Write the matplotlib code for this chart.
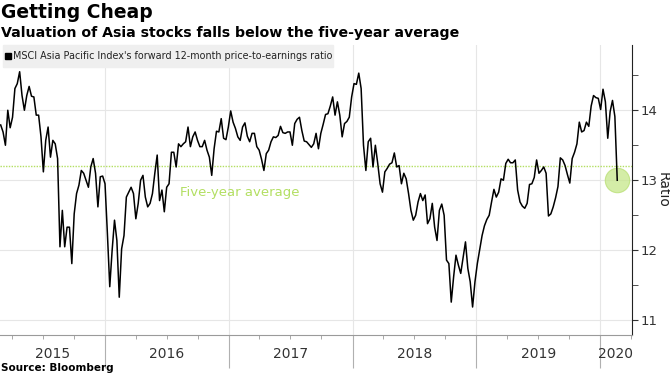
import matplotlib
matplotlib.use("Agg")
import matplotlib.pyplot as plt
import matplotlib.dates as mdates
import pandas as pd

# weekly MSCI Asia Pacific forward P/E
pe_ratio = [
    13.79, 13.69, 13.50, 14.00, 13.75, 13.90, 14.31, 14.38, 14.55, 14.21,
    14.00, 14.21, 14.34, 14.20, 14.19, 13.93, 13.93, 13.62, 13.12, 13.57,
    13.76, 13.33, 13.57, 13.52, 13.31, 12.05, 12.57, 12.05, 12.33, 12.33,
    11.81, 12.52, 12.81, 12.93, 13.14, 13.10, 13.00, 12.90, 13.19, 13.31,
    13.10, 12.62, 13.05, 13.06, 12.95,
    12.24, 11.48, 12.00, 12.43, 12.14, 11.33, 12.02, 12.21, 12.76, 12.83,
    12.90, 12.81, 12.45, 12.67, 13.00, 13.07, 12.76, 12.62, 12.67, 12.81,
    13.10, 13.36, 12.71, 12.86, 12.55, 12.90, 12.95, 13.40, 13.40, 13.19,
    13.52, 13.48, 13.52, 13.55, 13.76, 13.48, 13.62, 13.69, 13.57, 13.48,
    13.48, 13.57, 13.43, 13.33, 13.07, 13.45,
    13.70, 13.69, 13.88, 13.60, 13.58, 13.76, 13.99, 13.83, 13.74, 13.62,
    13.57, 13.76, 13.82, 13.63, 13.55, 13.67, 13.67, 13.48, 13.43, 13.30,
    13.14, 13.38, 13.43, 13.55, 13.62, 13.61, 13.64, 13.77, 13.68, 13.67,
    13.69, 13.69, 13.50, 13.81, 13.87, 13.90, 13.71, 13.56, 13.55, 13.51,
    13.47, 13.52, 13.67, 13.45,
    13.67, 13.80, 13.94, 13.95, 14.06, 14.19, 13.93, 14.12, 13.93, 13.62,
    13.81, 13.84, 13.90, 14.19, 14.38, 14.37, 14.53, 14.31, 13.50, 13.14,
    13.55, 13.60, 13.19, 13.50, 13.24, 12.95, 12.83, 13.12, 13.17, 13.23,
    13.25, 13.39, 13.19, 13.21, 12.95, 13.10, 13.02, 12.81, 12.57, 12.43,
    12.50, 12.69, 12.81,
    12.71, 12.79, 12.38, 12.45, 12.67, 12.33, 12.14, 12.57, 12.66, 12.50,
    11.86, 11.81, 11.26, 11.62, 11.93, 11.79, 11.67, 11.90, 12.12, 11.74,
    11.55, 11.19, 11.55, 11.81, 12.01, 12.21, 12.35, 12.44, 12.50, 12.69,
    12.87, 12.76, 12.83, 13.02, 13.00, 13.24, 13.30, 13.25, 13.25, 13.29,
    12.86, 12.69, 12.63, 12.60,
    12.67, 12.94, 12.95, 13.04, 13.29, 13.10, 13.14, 13.19, 13.10, 12.49,
    12.52, 12.62, 12.75, 12.91, 13.32, 13.29, 13.21, 13.08, 12.96, 13.31,
    13.40, 13.52, 13.83, 13.69, 13.71, 13.83, 13.77, 14.06, 14.21, 14.18,
    14.17, 14.01, 14.30, 14.12, 13.60, 13.98, 14.14, 13.91, 13.00,
]
dates = pd.date_range("2015-02-27", periods=len(pe_ratio), freq="7D")
five_year_avg = 13.2
years = [2015, 2016, 2017, 2018, 2019, 2020]

legend_text = "MSCI Asia Pacific Index's forward 12-month price-to-earnings ratio"
avg_green = "#b3df62"

fig = plt.figure(figsize=(6.7, 3.76), dpi=100)
ax = fig.add_axes([0.0, 0.109, 0.943, 0.771])

x0 = pd.Timestamp("2015-02-25")
x1 = pd.Timestamp("2020-04-04")

# grid
for y in [11, 12, 13, 14]:
    ax.axhline(y, color="#e6e6e6", lw=0.8, zorder=0)
for yr in years[1:]:
    ax.axvline(pd.Timestamp(f"{yr}-01-01"), color="#e6e6e6", lw=0.8, zorder=0)

ax.axhline(five_year_avg, color=avg_green, lw=1, ls=(0, (1, 1)), zorder=1)
ax.plot(dates, pe_ratio, color="black", lw=1.1, zorder=3)
ax.scatter([dates[-1]], [pe_ratio[-1]], s=310, color="#c6e78a", alpha=0.75,
           edgecolor="#b8df73", lw=0.8, zorder=2)

ax.text(pd.Timestamp("2016-08-08"), 12.83, "Five-year average", color=avg_green,
        fontsize=9.5, va="center", ha="left")

ax.set_xlim(x0, x1)
ax.set_ylim(10.79, 14.93)

for s in ["top", "left"]:
    ax.spines[s].set_visible(False)
ax.spines["right"].set_color("#222222")
ax.spines["bottom"].set_color("#9a9a9a")

ax.yaxis.tick_right()
ax.set_yticks([11, 12, 13, 14])
ax.set_yticks([11.5, 12.5, 13.5, 14.5], minor=True)
ax.tick_params(axis="y", which="major", length=4, color="#333333", pad=2,
               labelsize=9.5, labelcolor="#333333")
ax.tick_params(axis="y", which="minor", length=4, color="#333333")
ax.yaxis.set_label_position("right")
ax.set_ylabel("Ratio", rotation=270, fontsize=10, labelpad=9, color="#222222")

ax.set_xticks([pd.Timestamp(f"{yr}-01-01") for yr in years[1:]])
ax.xaxis.set_minor_locator(mdates.MonthLocator(bymonth=[4, 7, 10]))
ax.tick_params(axis="x", which="major", length=24, color="#b0b0b0", labelbottom=False)
ax.tick_params(axis="x", which="minor", length=3, color="#9a9a9a")

for yr in years:
    a = max(pd.Timestamp(f"{yr}-01-01"), x0)
    b = min(pd.Timestamp(f"{yr + 1}-01-01"), x1)
    ax.text(a + (b - a) / 2, -0.065, str(yr), transform=ax.get_xaxis_transform(),
            ha="center", va="center", fontsize=10, color="#333333")

# legend box
fig.patches.append(plt.Rectangle((0.004, 0.822), 0.493, 0.058, transform=fig.transFigure,
                                 color="#efefef", zorder=0))
fig.patches.append(plt.Rectangle((0.0075, 0.843), 0.0085, 0.016, transform=fig.transFigure,
                                 color="black", zorder=1))
fig.text(0.0195, 0.851, legend_text, fontsize=6.9, va="center", ha="left", color="#222222")

fig.text(0.002, 0.968, "Getting Cheap", fontsize=13.5, fontweight="bold", va="center")
fig.text(0.002, 0.912, "Valuation of Asia stocks falls below the five-year average",
         fontsize=10.2, fontweight="bold", va="center")
fig.text(0.002, 0.02, "Source: Bloomberg", fontsize=7.5, fontweight="bold", va="center")

fig.savefig("out.png", dpi=100)
